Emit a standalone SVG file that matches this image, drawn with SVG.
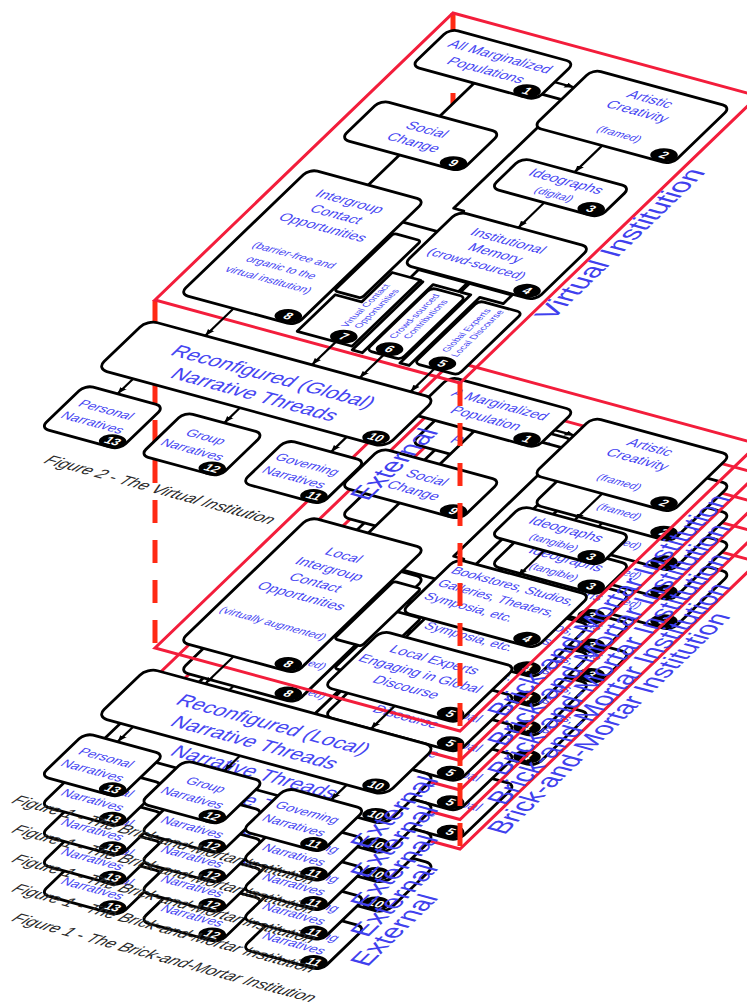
<svg xmlns="http://www.w3.org/2000/svg" width="747" height="1006" viewBox="0 0 747 1006">
<defs>
<style>
.n{fill:#fff;stroke:#000;stroke-width:2.8;vector-effect:non-scaling-stroke;stroke-linejoin:round}
.fr{fill:none;stroke:#f31d3b;stroke-width:3;vector-effect:non-scaling-stroke}
.t{font-family:"Liberation Sans",Arial,sans-serif;font-size:14px;fill:#4646f2;text-anchor:middle}
.s{font-size:11px}
.m{font-size:13px}
.v{font-size:9px}
.l{text-anchor:start}
.big{font-size:20px}
.lbl{font-family:"Liberation Sans",Arial,sans-serif;font-size:27px;fill:#4040ee}
.cap{font-family:"Liberation Sans",Arial,sans-serif;font-size:16px;font-style:italic;fill:#2a2a2a;text-anchor:middle}
.b{fill:#000}
.bt{font-family:"Liberation Sans",Arial,sans-serif;font-size:12px;font-weight:bold;fill:#fff;text-anchor:middle}
.ar{fill:none;stroke:#000;stroke-width:2.2;vector-effect:non-scaling-stroke;marker-end:url(#ah)}
.dash{fill:none;stroke:#ff2a14;stroke-width:5;stroke-dasharray:23 17}
</style>
<marker id="ah" markerUnits="userSpaceOnUse" viewBox="0 0 10 10" refX="10" refY="5" markerWidth="8" markerHeight="8" orient="auto"><path d="M0,1 L10,5 L0,9 z" fill="#000"/></marker>
</defs>
<rect width="747" height="1006" fill="#fff"/>

<g id="bm-lower-copies">
<use href="#bm" transform="translate(0,118)"/>
<use href="#bm" transform="translate(0,88.5)"/>
<use href="#bm" transform="translate(0,59)"/>
<use href="#bm" transform="translate(0,29.5)"/>
</g>

<g id="bm" transform="matrix(1.01667 0.27667 -0.745 0.7175 453 361)">
<rect class="fr" x="0" y="0" width="300" height="400"/>
<text class="lbl" transform="translate(323,372) rotate(-90)" textLength="305" lengthAdjust="spacingAndGlyphs">Brick-and-Mortar Institution</text>
<text class="lbl" transform="translate(323,556) rotate(-90)" textLength="97" lengthAdjust="spacingAndGlyphs">External</text>
<text class="cap" x="160" y="611" textLength="295" lengthAdjust="spacingAndGlyphs">Figure 1 - The Brick-and-Mortar Institution</text>
<g id="bm-connectors">
<path class="n" d="M72,62 H156 V212 H166 V242 H72 Z"/>
<rect class="n" x="130" y="257" width="27" height="80" rx="3"/>
<path class="ar" d="M133,45 H152"/>
<path class="ar" d="M220,100 V137"/>
<path class="ar" d="M221,179 V214"/>
<path class="ar" d="M67,386 V424"/>
<path class="ar" d="M230,392 V424"/>
<path class="ar" d="M46,492 V513"/>
<path class="ar" d="M151,492 V513"/>
<path class="ar" d="M256,492 V513"/>
</g>
<g id="b-n1"><rect class="n" x="10" y="18" width="123" height="52" rx="8"/><text class="t" x="71" y="38">A Marginalized</text><text class="t" x="71" y="57">Population</text><ellipse class="b" cx="119" cy="63" rx="12" ry="8.5"/><text class="bt" x="119" y="67">1</text></g>
<g id="b-n2"><rect class="n" x="152" y="20" width="136" height="80" rx="8"/><text class="t" x="220" y="40">Artistic</text><text class="t" x="220" y="57">Creativity</text><text class="t s" x="224" y="86">(framed)</text><ellipse class="b" cx="275" cy="92" rx="12" ry="8.5"/><text class="bt" x="275" y="96">2</text></g>
<g id="b-n9"><rect class="n" x="14" y="116" width="118" height="54" rx="8"/><text class="t" x="73" y="139">Social</text><text class="t" x="73" y="157">Change</text><ellipse class="b" cx="120" cy="163" rx="12" ry="8.5"/><text class="bt" x="120" y="167">9</text></g>
<g id="b-n3"><rect class="n" x="168" y="137" width="107" height="42" rx="8"/><text class="t" x="221" y="154">Ideographs</text><text class="t s" x="222" y="171">(tangible)</text><ellipse class="b" cx="262" cy="172" rx="12" ry="8.5"/><text class="bt" x="262" y="176">3</text></g>
<g id="b-n8"><rect class="n" x="14" y="212" width="114" height="174" rx="8"/><text class="t" x="71" y="248">Local</text><text class="t" x="71" y="267">Intergroup</text><text class="t" x="71" y="286">Contact</text><text class="t" x="71" y="305">Opportunities</text><text class="t s" x="71" y="342">(virtually augmented)</text><ellipse class="b" cx="115" cy="378" rx="12" ry="8.5"/><text class="bt" x="115" y="382">8</text></g>
<g id="b-n4"><rect class="n" x="160" y="214" width="132" height="74" rx="8"/><text class="t m l" x="166" y="231">Bookstores, Studios,</text><text class="t m l" x="166" y="249">Galleries, Theaters,</text><text class="t m l" x="166" y="267">Symposia, etc.</text><ellipse class="b" cx="278" cy="280" rx="12" ry="8.5"/><text class="bt" x="278" y="284">4</text></g>
<g id="b-n5"><rect class="n" x="160" y="314" width="132" height="78" rx="8"/><text class="t" x="224" y="335">Local Experts</text><text class="t" x="224" y="354">Engaging in Global</text><text class="t" x="224" y="373">Discourse</text><ellipse class="b" cx="279" cy="384" rx="12" ry="8.5"/><text class="bt" x="279" y="388">5</text></g>
<g id="b-n10"><rect class="n" x="10" y="424" width="284" height="68" rx="10"/><text class="t big" x="152" y="455">Reconfigured (Local)</text><text class="t big" x="152" y="480">Narrative Threads</text><ellipse class="b" cx="279" cy="484" rx="12" ry="8.5"/><text class="bt" x="279" y="488">10</text></g>
<g id="b-n13"><rect class="n" x="14" y="513" width="78" height="60" rx="8"/><text class="t m" x="50" y="538">Personal</text><text class="t m" x="50" y="556">Narratives</text><ellipse class="b" cx="80" cy="566" rx="12" ry="8.5"/><text class="bt" x="80" y="570">13</text></g>
<g id="b-n12"><rect class="n" x="112" y="513" width="78" height="60" rx="8"/><text class="t m" x="148" y="538">Group</text><text class="t m" x="148" y="556">Narratives</text><ellipse class="b" cx="178" cy="566" rx="12" ry="8.5"/><text class="bt" x="178" y="570">12</text></g>
<g id="b-n11"><rect class="n" x="212" y="513" width="78" height="60" rx="8"/><text class="t m" x="248" y="538">Governing</text><text class="t m" x="248" y="556">Narratives</text><ellipse class="b" cx="278" cy="566" rx="12" ry="8.5"/><text class="bt" x="278" y="570">11</text></g>
</g>

<g id="dashed-links">
<path class="dash" d="M155,300 V648"/>
<path class="dash" d="M460,383 V850"/>
<path class="dash" d="M453,13 V361"/>
</g>

<g id="virtual" transform="matrix(1.01667 0.27667 -0.745 0.7175 453 13)">
<rect class="fr" x="0" y="0" width="300" height="400"/>
<text class="lbl" transform="translate(321,305) rotate(-90)" textLength="207" lengthAdjust="spacingAndGlyphs">Virtual Institution</text>
<text class="lbl" transform="translate(323,556) rotate(-90)" textLength="97" lengthAdjust="spacingAndGlyphs">External</text>
<text class="cap" x="155" y="610" textLength="223" lengthAdjust="spacingAndGlyphs">Figure 2 - The Virtual Institution</text>
<g id="v-connectors">
<path class="n" d="M72,62 H156 V212 H166 V242 H72 Z"/>
<rect class="n" x="130" y="257" width="27" height="80" rx="3"/>
<path class="n" d="M178,289 H226 V301 H201 V396 H191 V301 H178 Z"/>
<path class="n" d="M228,289 H270 V301 H247 V396 H238 V301 H228 Z"/>
<path class="ar" d="M133,45 H152"/>
<path class="ar" d="M220,100 V137"/>
<path class="ar" d="M221,179 V214"/>
<path class="ar" d="M67,386 V424"/>
<path class="ar" d="M172,392 V424"/>
<path class="ar" d="M219,392 V424"/>
<path class="ar" d="M269,392 V424"/>
<path class="ar" d="M46,492 V513"/>
<path class="ar" d="M151,492 V513"/>
<path class="ar" d="M256,492 V513"/>
</g>
<g id="v-n1"><rect class="n" x="10" y="18" width="123" height="52" rx="8"/><text class="t" x="71" y="38">All Marginalized</text><text class="t" x="71" y="57">Populations</text><ellipse class="b" cx="119" cy="63" rx="12" ry="8.5"/><text class="bt" x="119" y="67">1</text></g>
<g id="v-n2"><rect class="n" x="152" y="20" width="136" height="80" rx="8"/><text class="t" x="220" y="40">Artistic</text><text class="t" x="220" y="57">Creativity</text><text class="t s" x="224" y="86">(framed)</text><ellipse class="b" cx="275" cy="92" rx="12" ry="8.5"/><text class="bt" x="275" y="96">2</text></g>
<g id="v-n9"><rect class="n" x="14" y="116" width="118" height="54" rx="8"/><text class="t" x="73" y="139">Social</text><text class="t" x="73" y="157">Change</text><ellipse class="b" cx="120" cy="163" rx="12" ry="8.5"/><text class="bt" x="120" y="167">9</text></g>
<g id="v-n3"><rect class="n" x="168" y="137" width="107" height="42" rx="8"/><text class="t" x="221" y="154">Ideographs</text><text class="t s" x="222" y="171">(digital)</text><ellipse class="b" cx="262" cy="172" rx="12" ry="8.5"/><text class="bt" x="262" y="176">3</text></g>
<g id="v-n8"><rect class="n" x="14" y="212" width="114" height="174" rx="8"/><text class="t" x="71" y="240">Intergroup</text><text class="t" x="71" y="258">Contact</text><text class="t" x="71" y="276">Opportunities</text><text class="t s" x="71" y="314">(barrier-free and</text><text class="t s" x="71" y="331">organic to the</text><text class="t s" x="71" y="348">virtual institution)</text><ellipse class="b" cx="115" cy="378" rx="12" ry="8.5"/><text class="bt" x="115" y="382">8</text></g>
<g id="v-n4"><rect class="n" x="162" y="214" width="130" height="74" rx="8"/><text class="t" x="224" y="236">Institutional</text><text class="t" x="224" y="253">Memory</text><text class="t m" x="218" y="270">(crowd-sourced)</text><ellipse class="b" cx="278" cy="280" rx="12" ry="8.5"/><text class="bt" x="278" y="284">4</text></g>
<g id="v-n7"><path class="n" d="M160,300 H188 V392 H134 V341 H160 Z"/><text class="t v" transform="translate(169,344) rotate(-90)">Virtual Contact</text><text class="t v" transform="translate(180,344) rotate(-90)">Opportunities</text><ellipse class="b" cx="174" cy="384" rx="12" ry="8.5"/><text class="bt" x="174" y="388">7</text></g>
<g id="v-n6"><rect class="n" x="202" y="305" width="34" height="87" rx="5"/><text class="t v" transform="translate(215,341) rotate(-90)">Crowd-sourced</text><text class="t v" transform="translate(226,341) rotate(-90)">Contributions</text><ellipse class="b" cx="219" cy="384" rx="12" ry="8.5"/><text class="bt" x="219" y="388">6</text></g>
<g id="v-n5"><rect class="n" x="249" y="305" width="43" height="87" rx="5"/><text class="t v" transform="translate(266,341) rotate(-90)">Global Experts</text><text class="t v" transform="translate(277,341) rotate(-90)">Local Discourse</text><ellipse class="b" cx="271" cy="384" rx="12" ry="8.5"/><text class="bt" x="271" y="388">5</text></g>
<g id="v-n10"><rect class="n" x="10" y="424" width="284" height="68" rx="10"/><text class="t big" x="152" y="455">Reconfigured (Global)</text><text class="t big" x="152" y="480">Narrative Threads</text><ellipse class="b" cx="279" cy="484" rx="12" ry="8.5"/><text class="bt" x="279" y="488">10</text></g>
<g id="v-n13"><rect class="n" x="14" y="513" width="78" height="60" rx="8"/><text class="t m" x="50" y="538">Personal</text><text class="t m" x="50" y="556">Narratives</text><ellipse class="b" cx="80" cy="566" rx="12" ry="8.5"/><text class="bt" x="80" y="570">13</text></g>
<g id="v-n12"><rect class="n" x="112" y="513" width="78" height="60" rx="8"/><text class="t m" x="148" y="538">Group</text><text class="t m" x="148" y="556">Narratives</text><ellipse class="b" cx="178" cy="566" rx="12" ry="8.5"/><text class="bt" x="178" y="570">12</text></g>
<g id="v-n11"><rect class="n" x="212" y="513" width="78" height="60" rx="8"/><text class="t m" x="248" y="538">Governing</text><text class="t m" x="248" y="556">Narratives</text><ellipse class="b" cx="278" cy="566" rx="12" ry="8.5"/><text class="bt" x="278" y="570">11</text></g>
</g>
</svg>
